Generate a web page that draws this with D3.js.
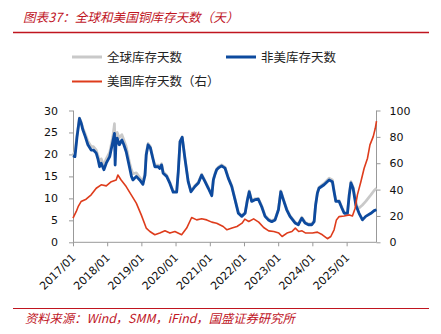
<!DOCTYPE html>
<html><head><meta charset="utf-8">
<script src="https://cdn.jsdelivr.net/npm/d3@7"></script>
<style>
html,body{margin:0;padding:0;background:#fff;}
svg{display:block;}
</style></head>
<body>
<svg id="c" width="441" height="334"></svg>
<script>
// ---- data ----
const titleText = "图表37：全球和美国铜库存天数（天）";
const sourceText = "资料来源：Wind，SMM，iFind，国盛证券研究所";
const seriesNames = ["全球库存天数", "非美库存天数", "美国库存天数（右）"];
const xTickLabels = ["2017/01","2018/01","2019/01","2020/01","2021/01","2022/01","2023/01","2024/01","2025/01"];
const leftTicks = [0,5,10,15,20,25,30];
const rightTicks = [0,20,40,60,80,100];

const nonUSDates = ["2017-01-01","2017-01-22","2017-02-13","2017-03-11","2017-03-31","2017-04-16","2017-05-13","2017-06-09","2017-07-14","2017-08-07","2017-09-06","2017-09-24","2017-10-12","2017-10-29","2017-11-27","2017-12-22","2018-01-28","2018-03-02","2018-03-20","2018-03-27","2018-04-04","2018-04-18","2018-05-11","2018-06-07","2018-06-28","2018-07-23","2018-08-29","2018-09-17","2018-10-03","2018-11-08","2018-12-14","2019-01-18","2019-02-09","2019-02-22","2019-03-14","2019-04-07","2019-05-07","2019-05-25","2019-06-30","2019-07-17","2019-08-05","2019-08-22","2019-09-28","2019-11-02","2019-12-07","2020-01-13","2020-01-30","2020-02-18","2020-03-12","2020-04-10","2020-05-15","2020-06-14","2020-07-26","2020-09-01","2020-10-06","2020-11-11","2020-12-16","2021-01-22","2021-02-08","2021-02-26","2021-03-15","2021-04-08","2021-05-07","2021-06-12","2021-07-17","2021-08-23","2021-09-27","2021-11-02","2021-12-08","2022-01-13","2022-02-07","2022-02-26","2022-03-24","2022-04-29","2022-06-03","2022-07-09","2022-08-14","2022-09-18","2022-10-24","2022-11-29","2023-01-04","2023-01-29","2023-02-25","2023-04-02","2023-05-07","2023-06-30","2023-08-04","2023-09-10","2023-10-15","2023-11-20","2023-12-26","2024-01-20","2024-02-05","2024-02-24","2024-03-12","2024-05-05","2024-06-28","2024-08-02","2024-08-20","2024-09-08","2024-10-13","2024-11-11","2024-12-06","2025-01-10","2025-01-29","2025-02-16","2025-03-11","2025-04-09","2025-05-14","2025-06-19","2025-07-24","2025-09-17","2025-10-22","2025-11-16"];
const nonUSValues = [19.7,19.5,24.0,28.2,27.0,25.6,24.0,22.2,21.0,21.0,20.3,19.0,17.2,18.0,16.5,18.0,19.5,22.9,24.8,17.6,22.0,23.7,22.2,23.3,22.2,20.6,16.9,15.0,14.2,15.0,14.2,13.2,15.3,19.9,22.2,21.5,18.8,17.2,17.2,16.8,17.6,15.7,15.0,13.4,11.4,11.4,16.0,22.9,23.9,19.1,13.8,11.5,12.7,13.5,15.3,13.8,12.3,10.6,14.2,15.5,16.5,17.0,17.4,16.9,14.6,12.7,9.7,6.6,5.9,6.6,9.7,11.5,9.3,9.7,9.8,8.1,5.9,5.1,4.7,5.1,7.4,11.5,9.7,7.4,5.9,4.4,4.0,5.5,4.4,4.0,4.0,4.7,8.5,11.2,12.3,13.1,14.2,13.8,11.5,9.3,9.3,7.8,6.6,6.6,10.8,13.5,12.3,8.5,6.6,5.1,5.9,6.6,7.2,7.4];

const globalDates = ["2017-01-01","2017-01-22","2017-02-13","2017-03-11","2017-03-31","2017-04-16","2017-05-13","2017-06-09","2017-07-14","2017-08-07","2017-09-06","2017-09-24","2017-10-12","2017-10-29","2017-11-27","2017-12-22","2018-01-28","2018-03-02","2018-03-20","2018-03-27","2018-04-04","2018-04-18","2018-05-11","2018-06-07","2018-06-28","2018-07-23","2018-08-29","2018-09-17","2018-10-03","2018-11-08","2018-12-14","2019-01-18","2019-02-09","2019-02-22","2019-03-14","2019-04-07","2019-05-07","2019-05-25","2019-06-30","2019-07-17","2019-08-05","2019-08-22","2019-09-28","2019-11-02","2019-12-07","2020-01-13","2020-01-30","2020-02-18","2020-03-12","2020-04-10","2020-05-15","2020-06-14","2020-07-26","2020-09-01","2020-10-06","2020-11-11","2020-12-16","2021-01-22","2021-02-08","2021-02-26","2021-03-15","2021-04-08","2021-05-07","2021-06-12","2021-07-17","2021-08-23","2021-09-27","2021-11-02","2021-12-08","2022-01-13","2022-02-07","2022-02-26","2022-03-24","2022-04-29","2022-06-03","2022-07-09","2022-08-14","2022-09-18","2022-10-24","2022-11-29","2023-01-04","2023-01-29","2023-02-25","2023-04-02","2023-05-07","2023-06-30","2023-08-04","2023-09-10","2023-10-15","2023-11-20","2023-12-26","2024-01-20","2024-02-05","2024-02-24","2024-03-12","2024-05-05","2024-06-28","2024-08-02","2024-08-20","2024-09-08","2024-10-13","2024-11-11","2024-12-06","2025-01-10","2025-01-29","2025-02-16","2025-03-11","2025-04-09","2025-04-25","2025-05-14","2025-06-19","2025-07-24","2025-09-17","2025-10-22","2025-11-16"];
const globalValues = [20.0,20.5,24.5,28.3,27.3,26.0,24.6,23.0,21.8,21.8,21.0,19.8,18.2,19.0,17.5,19.0,20.5,24.0,27.0,21.0,24.5,25.0,23.8,24.5,23.3,21.8,18.0,16.5,15.6,15.8,14.8,13.8,15.8,20.3,22.5,21.8,19.0,17.6,17.6,17.2,17.9,16.0,15.3,13.6,11.6,11.6,16.2,23.0,24.0,19.3,14.0,11.7,12.9,13.7,15.5,14.0,12.5,10.8,14.4,15.7,16.7,17.2,17.6,17.1,14.8,12.9,9.9,6.8,6.1,6.8,9.9,11.7,9.5,9.9,10.0,8.3,6.1,5.3,4.9,5.3,7.6,11.7,9.9,7.6,6.1,4.6,4.2,5.7,4.6,4.2,4.2,4.9,8.7,11.4,12.5,13.4,14.6,14.2,11.8,9.5,9.5,8.0,6.8,6.8,11.0,13.8,12.6,9.3,8.0,7.8,8.5,9.3,10.8,11.8,12.3];

const usDates = ["2017-01-01","2017-02-05","2017-02-28","2017-03-28","2017-05-21","2017-07-14","2017-09-06","2017-10-29","2017-12-22","2018-02-14","2018-04-07","2018-04-25","2018-05-30","2018-07-23","2018-09-15","2018-11-08","2018-12-31","2019-02-22","2019-04-02","2019-05-25","2019-07-17","2019-09-10","2019-11-02","2019-12-25","2020-03-06","2020-04-29","2020-06-21","2020-08-14","2020-10-06","2020-11-29","2021-01-22","2021-03-15","2021-05-24","2021-07-03","2021-08-26","2021-10-18","2021-12-11","2022-01-10","2022-02-21","2022-04-14","2022-06-07","2022-07-30","2022-09-22","2022-11-15","2023-01-08","2023-02-12","2023-04-05","2023-05-28","2023-07-03","2023-08-08","2023-09-13","2023-10-22","2024-01-02","2024-02-24","2024-04-17","2024-06-10","2024-07-16","2024-08-20","2024-09-14","2024-10-13","2024-12-06","2025-01-29","2025-03-04","2025-04-02","2025-04-26","2025-06-02","2025-07-07","2025-08-12","2025-09-07","2025-10-12","2025-11-03","2025-11-16"];
const usValues = [18.3,23.4,27.5,30.9,32.7,36.0,41.0,43.6,42.8,46.0,47.3,51.1,47.3,42.3,36.0,29.7,20.8,10.8,8.2,5.7,7.0,8.7,7.0,8.2,5.7,10.8,18.8,17.0,17.8,17.0,15.3,14.5,12.0,9.5,10.8,12.0,14.5,17.6,15.8,17.8,15.3,11.2,8.7,8.2,7.0,4.4,7.0,8.2,10.8,8.2,8.7,7.0,7.0,7.7,5.7,2.7,4.4,9.5,17.0,19.5,20.0,20.8,20.0,25.9,36.0,46.0,56.2,63.8,73.9,80.2,86.5,92.0];

const colors = ["#c9c9c9", "#0d4a9e", "#de3c1c"];

// ---- build ----
const parse = d3.timeParse("%Y-%m-%d");
const toPts = (ds, vs) => ds.map((d,i)=>({date:parse(d), v:vs[i]}));
const gData = toPts(globalDates, globalValues);
const nData = toPts(nonUSDates, nonUSValues);
const uData = toPts(usDates, usValues);

const svg = d3.select("#c");
const red = "#c0151f";

const L = 73, R = 376.5, T = 110.5, B = 242.3;
const x = d3.scaleTime().domain([parse("2017-01-01"), parse("2025-11-16")]).range([L, R]);
const yL = d3.scaleLinear().domain([0,30]).range([B, T]);
const yR = d3.scaleLinear().domain([0,100]).range([B, T]);

// title
svg.append("text").attr("x", 23).attr("y", 22)
  .attr("font-family", "'Noto Sans CJK SC', sans-serif").attr("font-size", 12.6)
  .attr("font-style", "italic").attr("fill", red).text(titleText);
svg.append("line").attr("x1", 13).attr("x2", 429).attr("y1", 32.5).attr("y2", 32.5)
  .attr("stroke", red).attr("stroke-width", 1.5);

// footer
svg.append("line").attr("x1", 13).attr("x2", 429).attr("y1", 308.5).attr("y2", 308.5)
  .attr("stroke", red).attr("stroke-width", 1.2);
svg.append("text").attr("x", 25).attr("y", 323)
  .attr("font-family", "'Noto Sans CJK SC', sans-serif").attr("font-size", 12.3)
  .attr("font-style", "italic").attr("fill", red).text(sourceText);

// legend
const legendItems = [
  {name: seriesNames[0], color: colors[0], x: 72, y: 57, w: 3},
  {name: seriesNames[1], color: colors[1], x: 226, y: 57, w: 3},
  {name: seriesNames[2], color: colors[2], x: 72, y: 81.5, w: 2}
];
legendItems.forEach(it => {
  svg.append("line").attr("x1", it.x).attr("x2", it.x + 30).attr("y1", it.y).attr("y2", it.y)
    .attr("stroke", it.color).attr("stroke-width", it.w);
  svg.append("text").attr("x", it.x + 35).attr("y", it.y + 4.5)
    .attr("font-family", "'Noto Sans CJK SC', sans-serif").attr("font-size", 12.5)
    .attr("fill", "#222").text(it.name);
});

// axes
const axisColor = "#999";
const tickFont = "'DejaVu Sans', Verdana, sans-serif";
const gl = svg.append("g").attr("transform", `translate(${L},0)`)
  .call(d3.axisLeft(yL).tickValues(leftTicks).tickSize(4).tickPadding(11).tickFormat(d3.format("d")));
const gr = svg.append("g").attr("transform", `translate(${R},0)`)
  .call(d3.axisRight(yR).tickValues(rightTicks).tickSize(4).tickPadding(9).tickFormat(d3.format("d")));
const xTickDates = xTickLabels.map(s => d3.timeParse("%Y/%m")(s));
const gx = svg.append("g").attr("transform", `translate(0,${B})`)
  .call(d3.axisBottom(x).tickValues(xTickDates).tickSize(4).tickSizeOuter(0).tickFormat(d3.timeFormat("%Y/%m")));
[gl, gr, gx].forEach(g => {
  g.select(".domain").attr("stroke", axisColor);
  g.selectAll(".tick line").attr("stroke", axisColor);
  g.selectAll("text").attr("font-family", tickFont).attr("font-size", 11).attr("fill", "#111");
});
gl.select(".domain").attr("d", `M0.5,${T}V${B}`);
gr.select(".domain").attr("d", `M0,${T}V${B}`);
gx.select(".domain").attr("d", `M${L},0H${R}`);
gx.selectAll(".tick text")
  .attr("text-anchor", "end").attr("dy", null).attr("y", 0)
  .attr("transform", "translate(3,16) rotate(-45)");

// lines
const lineL = d3.line().x(d => x(d.date)).y(d => yL(d.v)).curve(d3.curveLinear);
const lineR = d3.line().x(d => x(d.date)).y(d => yR(d.v)).curve(d3.curveLinear);
svg.append("path").datum(gData).attr("d", lineL).attr("fill", "none")
  .attr("stroke", colors[0]).attr("stroke-width", 2.7).attr("stroke-linejoin", "round");
svg.append("path").datum(nData).attr("d", lineL).attr("fill", "none")
  .attr("stroke", colors[1]).attr("stroke-width", 2.8).attr("stroke-linejoin", "round");
svg.append("path").datum(uData).attr("d", lineR).attr("fill", "none")
  .attr("stroke", colors[2]).attr("stroke-width", 1.6).attr("stroke-linejoin", "round");
</script>
</body></html>
